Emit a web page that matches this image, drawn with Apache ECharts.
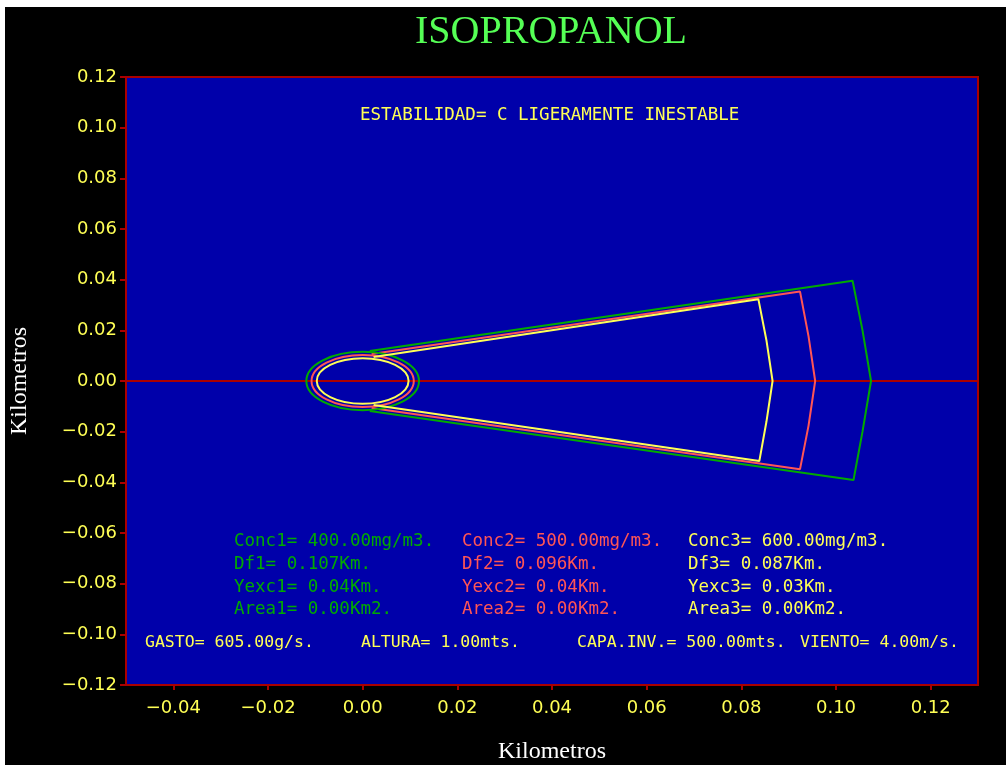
<!DOCTYPE html>
<html>
<head>
<meta charset="utf-8">
<script src="https://cdn.jsdelivr.net/npm/echarts@6/dist/echarts.min.js"></script>
<style>
  html, body { margin: 0; padding: 0; background: #000; }
  #chart { position: absolute; left: 0; top: 0; width: 1006px; height: 765px; }
  .strip { position: absolute; background: #fff; }
</style>
</head>
<body>
<div id="chart"></div>
<div class="strip" style="left:0;top:0;width:1006px;height:7px;"></div>
<div class="strip" style="left:0;top:0;width:5px;height:765px;"></div>
<script>
// ---- Data ----
const chartTitle = 'ISOPROPANOL';
const axisName = 'Kilometros';
const stability = 'C LIGERAMENTE INESTABLE';

const concNames = ['Conc1', 'Conc2', 'Conc3'];
const concValues = [400.00, 500.00, 600.00];   // mg/m3
const dfValues = [0.107, 0.096, 0.087];        // Km
const yexcValues = [0.04, 0.04, 0.03];         // Km
const areaValues = [0.00, 0.00, 0.00];         // Km2

const gasto = 605.00;   // g/s
const altura = 1.00;    // mts
const capaInv = 500.00; // mts
const viento = 4.00;    // m/s

// source circles (centre x, centre y, radius x, radius y) in km
const circle1 = [0, 0, 0.0119, 0.0115];
const circle2 = [0, 0, 0.0108, 0.0103];
const circle3 = [0, 0, 0.0097, 0.0090];

// plume outlines (x, y) in km
const plume1 = [[0.0015, 0.0118], [0.1035, 0.0396], [0.1056, 0.0200], [0.1074, 0], [0.1056, -0.0200], [0.1037, -0.0391], [0.0015, -0.0118]];
const plume2 = [[0.0019, 0.0107], [0.0924, 0.0353], [0.0942, 0.0176], [0.0956, 0], [0.0942, -0.0176], [0.0924, -0.0348], [0.0019, -0.0107]];
const plume3 = [[0.0023, 0.0095], [0.0836, 0.0323], [0.0853, 0.0161], [0.0866, 0], [0.0853, -0.0161], [0.0838, -0.0316], [0.0023, -0.0095]];

// centre line along the wind axis
const centreLine = [[-0.05, 0], [0.13, 0]];

const xMin = -0.05, xMax = 0.13;
const yMin = -0.12, yMax = 0.12, yStep = 0.02;

// ---- Styles ----
const GREEN = '#00aa00', RED = '#ff5555', YELLOW = '#ffff55';
const colors = [GREEN, RED, YELLOW];
const monoFont = '"DejaVu Sans Mono", monospace';

function fmtTick(v) {
  if (Math.abs(v) < 1e-9) v = 0;
  const s = Math.abs(v).toFixed(2);
  return v < 0 ? '\u2212' + s : s;
}

function ellipseSeries(c, color) {
  return {
    type: 'custom',
    coordinateSystem: 'cartesian2d',
    data: [c],
    z: 5,
    silent: true,
    renderItem: function (params, api) {
      const p = api.coord([api.value(0), api.value(1)]);
      const s = api.size([api.value(2), api.value(3)]);
      return {
        type: 'ellipse',
        shape: { cx: p[0], cy: p[1], rx: s[0], ry: s[1] },
        style: { fill: 'none', stroke: color, lineWidth: 2 }
      };
    }
  };
}

function lineSeries(data, color, z) {
  return {
    type: 'line', data: data, showSymbol: false, symbol: 'none', z: z,
    silent: true, animation: false,
    lineStyle: { color: color, width: 2 }
  };
}

function txt(x, y, text, color, size) {
  return {
    type: 'text', x: x, y: y, z: 100,
    style: {
      text: text, fill: color, font: size + 'px ' + monoFont,
      textAlign: 'left', align: 'left',
      textVerticalAlign: 'middle', verticalAlign: 'middle'
    }
  };
}

const colX = [234, 462, 688];
const rowY = [541, 564, 587, 609];
const graphics = [];
graphics.push({
  type: 'text', x: 551, y: 32, z: 100,
  style: {
    text: chartTitle, fill: '#55ff55', font: '40px "Liberation Serif", serif',
    textAlign: 'center', align: 'center', textVerticalAlign: 'middle', verticalAlign: 'middle'
  }
});
graphics.push(txt(360, 115, 'ESTABILIDAD= ' + stability, YELLOW, 17.5));
for (let i = 0; i < 3; i++) {
  const n = i + 1;
  graphics.push(txt(colX[i], rowY[0], concNames[i] + '= ' + concValues[i].toFixed(2) + 'mg/m3.', colors[i], 17.5));
  graphics.push(txt(colX[i], rowY[1], 'Df' + n + '= ' + dfValues[i].toFixed(3) + 'Km.', colors[i], 17.5));
  graphics.push(txt(colX[i], rowY[2], 'Yexc' + n + '= ' + yexcValues[i].toFixed(2) + 'Km.', colors[i], 17.5));
  graphics.push(txt(colX[i], rowY[3], 'Area' + n + '= ' + areaValues[i].toFixed(2) + 'Km2.', colors[i], 17.5));
}
graphics.push(txt(145, 643, 'GASTO= ' + gasto.toFixed(2) + 'g/s.', YELLOW, 16.5));
graphics.push(txt(361, 643, 'ALTURA= ' + altura.toFixed(2) + 'mts.', YELLOW, 16.5));
graphics.push(txt(577, 643, 'CAPA.INV.= ' + capaInv.toFixed(2) + 'mts.', YELLOW, 16.5));
graphics.push(txt(800, 643, 'VIENTO= ' + viento.toFixed(2) + 'm/s.', YELLOW, 16.5));

const chart = echarts.init(document.getElementById('chart'), null, { renderer: 'canvas' });
chart.setOption({
  backgroundColor: '#000000',
  animation: false,
  grid: {
    left: 126, top: 77, right: 28, bottom: 80,
    show: true, backgroundColor: '#0000aa', borderColor: '#aa0000', borderWidth: 2,
    containLabel: false, outerBoundsMode: 'none'
  },
  xAxis: {
    type: 'value', min: xMin, max: xMax, splitNumber: 9, position: 'bottom',
    name: axisName, nameLocation: 'middle', nameGap: 55,
    nameTextStyle: { color: '#ffffff', fontFamily: '"Liberation Serif", serif', fontSize: 24 },
    axisLine: { show: false, onZero: false },
    axisTick: { show: true, length: 5, lineStyle: { color: '#aa0000', width: 2 } },
    splitLine: { show: false },
    axisLabel: {
      color: YELLOW, fontFamily: '"DejaVu Sans", sans-serif', fontSize: 18, margin: 14,
      showMinLabel: false, showMaxLabel: false, formatter: fmtTick
    }
  },
  yAxis: {
    type: 'value', min: yMin, max: yMax, interval: yStep, position: 'left',
    name: axisName, nameLocation: 'middle', nameGap: 94,
    nameTextStyle: { color: '#ffffff', fontFamily: '"Liberation Serif", serif', fontSize: 24 },
    axisLine: { show: false, onZero: false },
    axisTick: { show: true, length: 6, lineStyle: { color: '#aa0000', width: 2 } },
    splitLine: { show: false },
    axisLabel: {
      color: YELLOW, fontFamily: '"DejaVu Sans", sans-serif', fontSize: 18, margin: 9,
      formatter: fmtTick
    }
  },
  series: [
    lineSeries(centreLine, '#aa0000', 2),
    lineSeries(plume1, GREEN, 3),
    lineSeries(plume2, RED, 4),
    lineSeries(plume3, YELLOW, 5),
    ellipseSeries(circle1, GREEN),
    ellipseSeries(circle2, RED),
    ellipseSeries(circle3, YELLOW)
  ],
  graphic: graphics
});
</script>
</body>
</html>
